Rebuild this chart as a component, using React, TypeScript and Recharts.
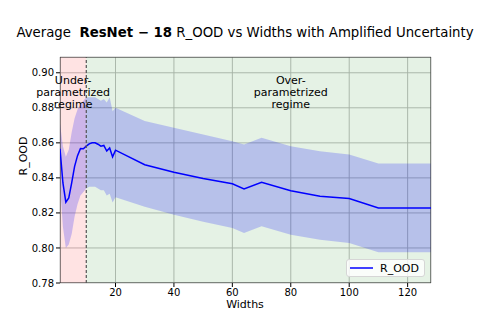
import React from 'react';
import {
  ComposedChart,
  Line,
  Area,
  XAxis,
  YAxis,
  CartesianGrid,
  ReferenceArea,
  ReferenceLine,
  Legend,
} from 'recharts';

const widths = [1, 2, 3, 4, 5, 6, 7, 8, 9, 10, 11, 12, 13, 14, 15, 16, 17, 18, 19, 20, 30, 40, 50, 60, 64, 70, 80, 90, 100, 110, 128];
const meanROOD = [0.8566, 0.8371, 0.8261, 0.8286, 0.8371, 0.8466, 0.8527, 0.8567, 0.8566, 0.8581, 0.8594, 0.86, 0.86, 0.8592, 0.8581, 0.8585, 0.8553, 0.8571, 0.852, 0.8558, 0.8475, 0.8432, 0.8396, 0.8366, 0.8337, 0.8375, 0.8327, 0.8295, 0.8282, 0.8228, 0.8228];
const upperROOD = [0.871, 0.858, 0.852, 0.856, 0.866, 0.874, 0.879, 0.882, 0.884, 0.886, 0.886, 0.886, 0.886, 0.885, 0.884, 0.885, 0.883, 0.886, 0.878, 0.88, 0.8724, 0.8686, 0.8647, 0.8609, 0.859, 0.8629, 0.8581, 0.8552, 0.8533, 0.8482, 0.8482];
const lowerROOD = [0.836, 0.812, 0.8, 0.802, 0.808, 0.818, 0.825, 0.83, 0.832, 0.834, 0.835, 0.835, 0.835, 0.834, 0.833, 0.833, 0.83, 0.831, 0.826, 0.829, 0.8235, 0.819, 0.8149, 0.8114, 0.8086, 0.8124, 0.8076, 0.8047, 0.8029, 0.7975, 0.7975];

const xTicks = [20, 40, 60, 80, 100, 120];
const yTicks = [0.78, 0.8, 0.82, 0.84, 0.86, 0.88, 0.9];
const xDomain = [1, 128];
const yDomain = [0.78, 0.909];
const underEnd = 10;
const underLabel = ['Under-', 'parametrized', 'regime'];
const overLabel = ['Over-', 'parametrized', 'regime'];
const underLabelX = 5.5;
const overLabelX = 80;

const data = widths.map((w, i) => ({
  w,
  mean: meanROOD[i],
  band: [lowerROOD[i], upperROOD[i]],
}));

const FONT = '"DejaVu Sans", sans-serif';

const MultiLabel = (props: any) => {
  const { viewBox, lines } = props;
  const x = viewBox.x;
  const y = viewBox.y;
  return (
    <g>
      {lines.map((t: string, i: number) => (
        <text
          key={i}
          x={x}
          y={y + 23.7 + i * 11.7}
          textAnchor="middle"
          dominantBaseline="central"
          fontSize={11}
          fontFamily={FONT}
          fill="#000"
        >
          {t}
        </text>
      ))}
    </g>
  );
};

const LegendBox = () => (
  <div
    style={{
      boxSizing: 'border-box',
      width: 79,
      height: 18,
      border: '1px solid #d6d6d6',
      borderRadius: 3,
      background: 'rgba(255,255,255,0.8)',
      display: 'flex',
      alignItems: 'center',
      fontFamily: FONT,
      fontSize: 11,
      color: '#000',
      lineHeight: '11px',
    }}
  >
    <svg width={33} height={10} style={{ display: 'block' }}>
      <line x1={3} x2={26} y1={5} y2={5} stroke="#0000ff" strokeWidth={1.5} />
    </svg>
    <span>R_OOD</span>
  </div>
);

export default function App() {
  return (
    <div style={{ position: 'absolute', left: 0, top: 0, width: 478, height: 319, background: '#fff' }}>
      <ComposedChart
        width={478}
        height={319}
        data={data}
        margin={{ top: 57, right: 47, left: 0, bottom: 0 }}
      >
        <ReferenceArea x1={xDomain[0]} x2={underEnd} y1={yDomain[0]} y2={yDomain[1]} fill="#ff0000" fillOpacity={0.11} stroke="none" ifOverflow="hidden" />
        <ReferenceArea x1={underEnd} x2={xDomain[1]} y1={yDomain[0]} y2={yDomain[1]} fill="#008000" fillOpacity={0.1} stroke="none" ifOverflow="hidden" />
        <CartesianGrid stroke="#b8b8b8" strokeWidth={0.9} />
        <XAxis
          dataKey="w"
          type="number"
          domain={xDomain}
          ticks={xTicks}
          allowDataOverflow
          height={36}
          tickSize={4}
          tickMargin={2}
          axisLine={false}
          tickLine={{ stroke: '#000' }}
          tick={{ fontSize: 10, fill: '#000', fontFamily: FONT }}
        />
        <YAxis
          type="number"
          domain={yDomain}
          ticks={yTicks}
          allowDataOverflow
          width={60}
          tickSize={4}
          tickMargin={2}
          axisLine={false}
          tickLine={{ stroke: '#000' }}
          tick={{ fontSize: 10, fill: '#000', fontFamily: FONT }}
          tickFormatter={(v: number) => v.toFixed(2)}
        />
        <Area
          dataKey="band"
          type="linear"
          fill="#0000ff"
          fillOpacity={0.2}
          stroke="none"
          isAnimationActive={false}
          legendType="none"
        />
        <Line
          dataKey="mean"
          name="R_OOD"
          type="linear"
          stroke="#0000ff"
          strokeWidth={1.5}
          dot={false}
          isAnimationActive={false}
        />
        <ReferenceLine x={underEnd} stroke="#555" strokeWidth={1.2} strokeDasharray="3 2" />
        <ReferenceLine x={underLabelX} stroke="none" label={<MultiLabel lines={underLabel} />} />
        <ReferenceLine x={overLabelX} stroke="none" label={<MultiLabel lines={overLabel} />} />
        <ReferenceArea x1={xDomain[0]} x2={xDomain[1]} y1={yDomain[0]} y2={yDomain[1]} fill="none" stroke="#333" strokeWidth={1} ifOverflow="hidden" />
        <Legend
          layout="horizontal"
          verticalAlign="middle"
          align="center"
          content={<LegendBox />}
          wrapperStyle={{ position: 'absolute', left: 346, top: 259, width: 79, height: 18, bottom: 'auto', right: 'auto', margin: 0 }}
        />
      </ComposedChart>
      <svg width={478} height={319} style={{ position: 'absolute', left: 0, top: 0, pointerEvents: 'none' }}>
        <text x={245} y={36.5} textAnchor="middle" fontFamily={FONT} fontSize={13.3} fill="#000" style={{ whiteSpace: 'pre' }}>
          <tspan>{'Average  '}</tspan>
          <tspan fontWeight="bold">{'ResNet − 18'}</tspan>
          <tspan>{' R_OOD vs Widths with Amplified Uncertainty'}</tspan>
        </text>
        <text
          x={23}
          y={156}
          transform="rotate(-90 23 156)"
          textAnchor="middle"
          dominantBaseline="central"
          fontFamily={FONT}
          fontSize={11}
          fill="#000"
        >
          R_OOD
        </text>
        <text x={245} y={308} textAnchor="middle" fontFamily={FONT} fontSize={11} fill="#000">
          Widths
        </text>
      </svg>
    </div>
  );
}
